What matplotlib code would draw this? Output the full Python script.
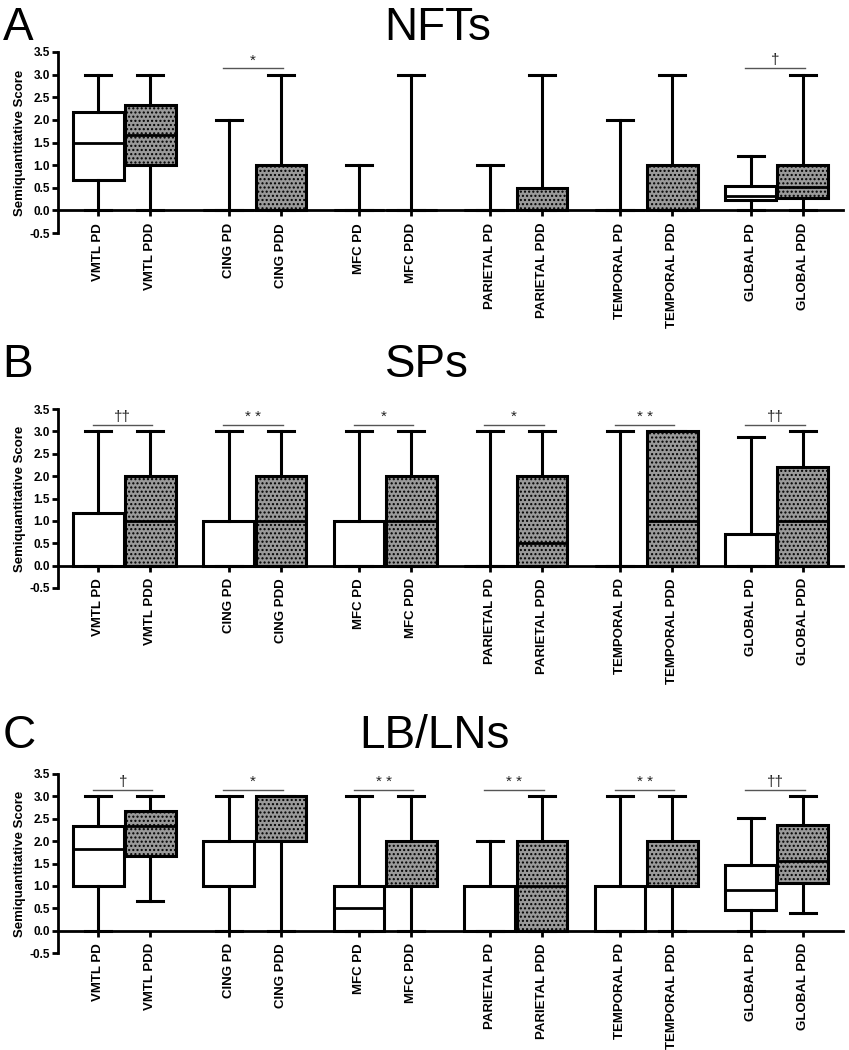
import numpy as np
import matplotlib
matplotlib.use("Agg")
import matplotlib.pyplot as plt

plt.rcParams['font.family'] = ['Liberation Sans', 'DejaVu Sans']

labels = ['VMTL PD', 'VMTL PDD', 'CING PD', 'CING PDD', 'MFC PD', 'MFC PDD',
          'PARIETAL PD', 'PARIETAL PDD', 'TEMPORAL PD', 'TEMPORAL PDD',
          'GLOBAL PD', 'GLOBAL PDD']

# NFTs
nft_min = [0, 0, 0, 0, 0, 0, 0, 0, 0, 0, 0, 0]
nft_q1 = [0.67, 1.0, 0, 0, 0, 0, 0, 0, 0, 0, 0.22, 0.27]
nft_med = [1.5, 1.67, 0, 0, 0, 0, 0, 0, 0, 0, 0.31, 0.52]
nft_q3 = [2.17, 2.33, 0, 1.0, 0, 0, 0, 0.5, 0, 1.0, 0.53, 1.0]
nft_max = [3, 3, 2, 3, 1, 3, 1, 3, 2, 3, 1.2, 3]
nft_sig = ['', '*', '', '', '', '\u2020']

# SPs
sp_min = [0, 0, 0, 0, 0, 0, 0, 0, 0, 0, 0, 0]
sp_q1 = [0, 0, 0, 0, 0, 0, 0, 0, 0, 0, 0, 0]
sp_med = [0, 1, 0, 1, 0, 1, 0, 0.5, 0, 1, 0, 1]
sp_q3 = [1.17, 2, 1, 2, 1, 2, 0, 2, 0, 3, 0.7, 2.2]
sp_max = [3, 3, 3, 3, 3, 3, 3, 3, 3, 3, 2.87, 3]
sp_sig = ['\u2020\u2020', '* *', '*', '*', '* *', '\u2020\u2020']

# LB/LNs
lb_min = [0, 0.67, 0, 0, 0, 0, 0, 0, 0, 0, 0, 0.4]
lb_q1 = [1, 1.67, 1, 2, 0, 1, 0, 0, 0, 1, 0.46, 1.07]
lb_med = [1.83, 2.33, 2, 3, 0.5, 1, 0, 1, 0, 1, 0.91, 1.55]
lb_q3 = [2.33, 2.67, 2, 3, 1, 2, 1, 2, 1, 2, 1.46, 2.35]
lb_max = [3, 3, 3, 3, 3, 3, 2, 3, 3, 3, 2.52, 3]
lb_sig = ['\u2020', '*', '* *', '* *', '* *', '\u2020\u2020']

panels = [
    ('A', 'NFTs', nft_min, nft_q1, nft_med, nft_q3, nft_max, nft_sig),
    ('B', 'SPs', sp_min, sp_q1, sp_med, sp_q3, sp_max, sp_sig),
    ('C', 'LB/LNs', lb_min, lb_q1, lb_med, lb_q3, lb_max, lb_sig),
]

positions = [2.5 * i + j for i in range(6) for j in (0, 1)]

fig = plt.figure(figsize=(8.49, 10.5), dpi=100)

# axes rectangles in pixels: (top of 3.5, bottom of -0.5)
rows = [(52, 233), (409, 588), (774, 953)]
letter_y = [0.962, 0.641, 0.288]
title_x = [0.516, 0.503, 0.512]

for k, (letter, title, wmin, q1, med, q3, wmax, sig) in enumerate(panels):
    top, bot = rows[k]
    ax = fig.add_axes([58 / 849, 1 - bot / 1050, 785 / 849, (bot - top) / 1050])
    ax.spines['top'].set_visible(False)
    ax.spines['right'].set_visible(False)
    ax.spines['bottom'].set_position(('data', 0))
    stats = []
    for i in range(len(labels)):
        stats.append(dict(whislo=wmin[i], q1=q1[i], med=med[i], q3=q3[i],
                          whishi=wmax[i], label=labels[i]))
    bp = ax.bxp(stats, positions=positions, widths=0.97, patch_artist=True,
                showfliers=False, capwidths=0.5,
                boxprops=dict(linewidth=2.2, edgecolor='black'),
                whiskerprops=dict(linewidth=2.2, color='black'),
                capprops=dict(linewidth=2.2, color='black'),
                medianprops=dict(linewidth=2.0, color='black'))
    for i, patch in enumerate(bp['boxes']):
        if i % 2 == 1:
            patch.set_facecolor('#9a9a9a')
            patch.set_hatch('....')
        else:
            patch.set_facecolor('white')
        patch.set_zorder(2)

    for i, s in enumerate(sig):
        if s:
            x0 = positions[2 * i] - 0.1
            x1 = positions[2 * i + 1] + 0.04
            ax.plot([x0, x1], [3.14, 3.14], color='#555555', lw=1.0)
            ax.text((x0 + x1) / 2, 3.16, s, ha='center', va='bottom',
                    fontsize=11, color='#222222')

    ax.set_xlim(-0.77, positions[-1] + 0.77)
    ax.set_ylim(-0.5, 3.5)
    ax.set_yticks(np.arange(-0.5, 3.51, 0.5))
    ax.set_yticklabels(['%.1f' % v for v in np.arange(-0.5, 3.51, 0.5)],
                       fontsize=8.5, fontweight='bold')
    ax.set_xticks(positions)
    ax.set_xticklabels(labels, rotation=90, fontsize=9.5, fontweight='bold',
                       va='top', ha='center')
    ax.spines['bottom'].set_linewidth(2.0)
    ax.spines['left'].set_linewidth(2.0)
    ax.tick_params(axis='both', width=2.0, length=4, pad=2)
    ax.tick_params(axis='x', pad=5)
    ax.set_ylabel('Semiquantitative Score', fontsize=9.5, fontweight='bold',
                  labelpad=2)

    fig.text(0.003, letter_y[k], letter, fontsize=33, va='baseline', ha='left')
    fig.text(title_x[k], letter_y[k], title, fontsize=33, va='baseline',
             ha='center')

fig.savefig('out.png', dpi=100)
